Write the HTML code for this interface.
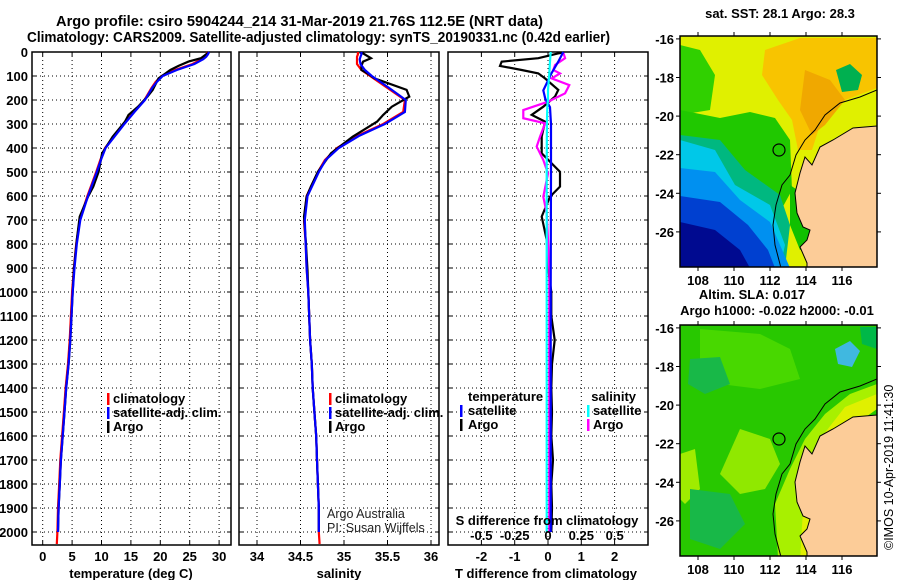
<!DOCTYPE html>
<html><head><meta charset="utf-8"><style>
html,body{margin:0;padding:0;background:#fff}
svg{display:block}
text{font-family:"Liberation Sans",sans-serif}
.b{font-weight:bold;font-size:13px}
.t{font-weight:bold;font-size:14.5px}
</style></head><body>
<svg id="s" width="900" height="580" viewBox="0 0 900 580">
<rect width="900" height="580" fill="#fff"/>
<text class="t" x="56" y="26" textLength="487" lengthAdjust="spacingAndGlyphs">Argo profile: csiro 5904244_214 31-Mar-2019 21.76S 112.5E (NRT data)</text>
<text class="t" x="27" y="42" textLength="583" lengthAdjust="spacingAndGlyphs">Climatology: CARS2009. Satellite-adjusted climatology: synTS_20190331.nc (0.42d earlier)</text>
<g id="p1"></g>
<g id="p2"></g>
<g id="p3"></g>
<g id="m1"></g>
<g id="m2"></g>
<text x="893" y="550" font-size="12.5" transform="rotate(-90 893 550)">©IMOS 10-Apr-2019 11:41:30</text>
</svg>
<script>
const depthClim=[0,10,20,30,50,75,100,125,150,200,250,300,350,400,450,500,600,700,800,900,1000,1100,1200,1300,1400,1500,1600,1700,1800,1900,2000,2050];
const tempClim=[28.0,27.9,27.6,27.0,25.5,22.5,20.2,19.2,18.5,17.3,15.5,13.8,12.2,10.6,9.8,9.1,7.6,6.3,5.7,5.3,5.0,4.8,4.6,4.3,3.9,3.6,3.3,3.0,2.8,2.6,2.5,2.4];
const tempSat=[28.3,28.1,27.8,27.3,25.8,22.8,20.4,19.4,18.6,17.4,15.6,13.9,12.3,10.7,9.9,9.2,7.7,6.4,5.8,5.4,5.1,4.9,4.7,4.4,4.0,3.7,3.4,3.1,2.9,2.7,2.6];
const depthArgo=[2,6,26,40,58,75,89,110,158,186,228,262,290,353,422,499,561,603,686,783,908,1000,1100,1200,1300,1400,1500,1600,1700,1800,1900,2000];
const tempArgo=[28.3,28.0,26.9,24.8,23.1,21.7,20.9,19.7,18.7,17.8,16.2,14.6,14.0,11.9,10.1,9.5,8.6,7.7,6.3,5.8,5.3,5.1,4.9,4.7,4.4,4.0,3.7,3.4,3.1,2.9,2.7,2.6];
const salClim=[35.16,35.16,35.15,35.15,35.15,35.2,35.3,35.4,35.5,35.7,35.68,35.45,35.15,34.92,34.78,34.7,34.57,34.54,34.56,34.57,34.59,34.6,34.61,34.63,34.64,34.66,34.68,34.69,34.7,34.71,34.71,34.72];
const salSat=[35.2,35.2,35.19,35.18,35.19,35.24,35.32,35.42,35.52,35.71,35.7,35.47,35.17,34.94,34.79,34.71,34.58,34.55,34.56,34.57,34.59,34.6,34.61,34.63,34.64,34.66,34.68,34.69,34.7,34.71,34.71];
const salArgo=[35.18,35.22,35.31,35.22,35.2,35.2,35.27,35.35,35.72,35.75,35.55,35.45,35.38,35.1,34.85,34.7,34.62,34.57,34.54,34.56,34.58,34.59,34.6,34.61,34.63,34.64,34.66,34.68,34.69,34.7,34.71,34.71];
const tDiffArgo=[0.46,0.3,-0.29,-1.39,-1.44,-0.79,-0.29,-0.09,0.31,0.21,-0.14,-0.49,-0.09,-0.19,-0.19,0.36,0.36,0.06,-0.19,-0.04,0.01,0.1,0.1,0.2,0.12,0.1,0.12,0.1,0.15,0.1,0.12,0.1];
const sDiffDepth=[5,26,54,75,89,110,138,172,207,242,276,297,353,394,450,506,603,672,783,908,1000,1500,2000];
const sDiffArgo=[0.116,0.128,0.053,0.04,0.09,0.028,0.16,0.128,0.0,-0.185,-0.185,-0.022,-0.06,-0.085,-0.035,0,-0.035,-0.01,0,0.01,0.01,0.01,0.01];
const satDiffDepth=[0,40,90,160,195,230,300,500,1000,1500,2000];
const tDiffSat=[0.46,0.31,0.1,-0.14,-0.08,0.06,0.09,0.09,0.08,0.08,0.08];
const sDiffSat=[0.02,0.015,0.01,0.0,0.0,-0.005,-0.008,-0.01,-0.01,-0.01,-0.01];
const depthTicks=[0,100,200,300,400,500,600,700,800,900,1000,1100,1200,1300,1400,1500,1600,1700,1800,1900,2000];
const tempTicks=[0,5,10,15,20,25,30];
const salTicks=[34,34.5,35,35.5,36];
const tdTicks=[-2,-1,0,1,2];
const sdTicks=[-0.5,-0.25,0,0.25,0.5];
const lonTicks=[108,110,112,114,116];
const latTicks=[-16,-18,-20,-22,-24,-26];

const NS='http://www.w3.org/2000/svg';
function mk(tag,attrs,parent){const e=document.createElementNS(NS,tag);for(const k in attrs)e.setAttribute(k,attrs[k]);parent.appendChild(e);return e;}
const PT=52,PB=545;
const yD=d=>52+d*0.24;

function panel(g,x0,x1,xs,ticks,label,showY){
  depthTicks.forEach(d=>{
    const l=mk('line',{x1:x0,x2:x1,y1:yD(d),y2:yD(d),stroke:'#000','stroke-dasharray':'1,3'},g);
    
    mk('line',{x1:x0,x2:x0+4,y1:yD(d),y2:yD(d),stroke:'#000'},g);
    mk('line',{x1:x1-4,x2:x1,y1:yD(d),y2:yD(d),stroke:'#000'},g);
    if(showY){const t=mk('text',{x:28,y:yD(d)+5,'text-anchor':'end',class:'b'},g);t.textContent=d;
      }
  });
  ticks.forEach(v=>{
    const l=mk('line',{x1:xs(v),x2:xs(v),y1:PT,y2:PB,stroke:'#000','stroke-dasharray':'1,3'},g);
    
    mk('line',{x1:xs(v),x2:xs(v),y1:PB-4,y2:PB,stroke:'#000'},g);
    mk('line',{x1:xs(v),x2:xs(v),y1:PT,y2:PT+4,stroke:'#000'},g);
  });
  const r=mk('rect',{x:x0,y:PT,width:x1-x0,height:PB-PT,fill:'none',stroke:'#000','stroke-width':1.5},g);
  
}
function tickLabels(g,ticks,xs,y){
  ticks.forEach(v=>{const t=mk('text',{x:xs(v),y:y,'text-anchor':'middle',class:'b'},g);t.textContent=v;
    });
}
function line(g,xs,vals,deps,col,name){
  const pts=vals.map((v,i)=>xs(v).toFixed(1)+','+yD(deps[i]).toFixed(1)).join(' ');
  const p=mk('polyline',{points:pts,fill:'none',stroke:col,'stroke-width':2.2,'stroke-linejoin':'miter'},g);
  
}
function lab(g,x,y,txt,name,extra){const t=mk('text',Object.assign({x:x,y:y,class:'b'},extra||{}),g);t.textContent=txt;
  return t;}
function legBar(g,x,y,col){const r=mk('rect',{x:x,y:y-10,width:2.5,height:12,fill:col},g);
  }

// panel 1
const g1=document.getElementById('p1');
const xT=v=>42.7+v*5.88;
panel(g1,32,231,xT,tempTicks,'',true);
line(g1,xT,tempClim,depthClim,'#f00','temp-climatology-line');
line(g1,xT,tempArgo,depthArgo,'#000','temp-argo-line');
line(g1,xT,tempSat,depthClim,'#00f','temp-satellite-line');
tickLabels(g1,tempTicks,xT,561);
lab(g1,131,578,'temperature (deg C)','x-axis-title-temperature',{'text-anchor':'middle'});
[['#f00','climatology'],['#00f','satellite-adj. clim.'],['#000','Argo']].forEach((e,i)=>{legBar(g1,107,403+i*14,e[0]);lab(g1,113,403+i*14,e[1],'legend-entry');});

// panel 2
const g2=document.getElementById('p2');
const xS=v=>257+(v-34)*87;
panel(g2,239,439,xS,salTicks,'',false);
line(g2,xS,salClim,depthClim,'#f00','sal-climatology-line');
line(g2,xS,salArgo,depthArgo,'#000','sal-argo-line');
line(g2,xS,salSat,depthClim,'#00f','sal-satellite-line');
tickLabels(g2,salTicks,xS,561);
lab(g2,339,578,'salinity','x-axis-title-salinity',{'text-anchor':'middle'});
[['#f00','climatology'],['#00f','satellite-adj. clim.'],['#000','Argo']].forEach((e,i)=>{legBar(g2,329,403+i*14,e[0]);lab(g2,335,403+i*14,e[1],'legend-entry');});
let c1=mk('text',{x:327,y:518,'font-size':12.5,fill:'#222'},g2);c1.textContent='Argo Australia';
let c2=mk('text',{x:327,y:532,'font-size':12.5,fill:'#222'},g2);c2.textContent='PI: Susan Wijffels';

// panel 3
const g3=document.getElementById('p3');
const xTD=v=>548+v*33.3;
const xSD=v=>548+v*133.3;
panel(g3,448,648,xTD,tdTicks,'',false);
line(g3,xTD,tDiffArgo,depthArgo,'#000','tdiff-argo-line');
line(g3,xSD,sDiffArgo,sDiffDepth,'#f0f','sdiff-argo-line');
line(g3,xTD,tDiffSat,satDiffDepth,'#00f','tdiff-satellite-line');
line(g3,xSD,sDiffSat,satDiffDepth,'#0ff','sdiff-satellite-line');
tickLabels(g3,tdTicks,xTD,561);
lab(g3,546,578,'T difference from climatology','x-axis-title-tdiff',{'text-anchor':'middle'});
lab(g3,547,525,'S difference from climatology','s-axis-title',{'text-anchor':'middle'});
tickLabels(g3,sdTicks,xSD,540);
lab(g3,468,401,'temperature','legend-title-temperature');
legBar(g3,460,415,'#00f');lab(g3,468,415,'satellite','legend-entry');
legBar(g3,460,429,'#000');lab(g3,468,429,'Argo','legend-entry');
lab(g3,636,401,'salinity','legend-title-salinity',{'text-anchor':'end'});
legBar(g3,587,415,'#0ff');lab(g3,593,415,'satellite','legend-entry');
legBar(g3,587,429,'#f0f');lab(g3,593,429,'Argo','legend-entry');

// maps
const land=[[877,126],[853,128],[833,140],[820,147],[812,165],[805,157],[800,173],[795,193],[797,213],[803,227],[810,230],[807,240],[800,247],[807,263],[807,268],[877,268]];
const iso=[[877,90],[860,97],[840,103],[825,115],[815,130],[805,140],[796,155],[790,175],[782,185],[776,205],[773,225],[775,245],[781,268]];
const P=a=>a.map(p=>p.join(',')).join(' ');
function map(g,dy,blobs,base,title){
  const cl='clip'+dy;
  const cp=mk('clipPath',{id:cl},g);mk('rect',{x:680,y:36+dy,width:197,height:231},cp);
  const inner=mk('g',{'clip-path':'url(#'+cl+')'},g);
  mk('rect',{x:680,y:36+dy,width:197,height:231,fill:base},inner);
  const bg=mk('g',{transform:'translate(0,'+dy+')'},inner);
  blobs.forEach(b=>{const p=mk('polygon',{points:P(b[1]),fill:b[0]},bg);});
  const ld=mk('polygon',{points:P(land),fill:'#fccc98',stroke:'#000','stroke-width':1},bg);
  
  const is=mk('polyline',{points:P(iso),fill:'none',stroke:'#000','stroke-width':1},bg);
  
  const c=mk('circle',{cx:779,cy:150,r:6,fill:'none',stroke:'#000','stroke-width':1.2},bg);
  
  const fr=mk('rect',{x:680,y:36+dy,width:197,height:231,fill:'none',stroke:'#000','stroke-width':1.5},g);
  
  lonTicks.forEach(v=>{const x=680+(v-107)*18;
    mk('line',{x1:x,x2:x,y1:36+dy,y2:32+dy,stroke:'#000'},g);mk('line',{x1:x,x2:x,y1:267+dy,y2:271+dy,stroke:'#000'},g);
    lab(g,x,285+dy,v,'lon-tick-label',{'text-anchor':'middle'});});
  latTicks.forEach(v=>{const y=36+(-15.85-v)*19.3+dy;
    mk('line',{x1:676,x2:680,y1:y,y2:y,stroke:'#000'},g);mk('line',{x1:877,x2:881,y1:y,y2:y,stroke:'#000'},g);
    lab(g,674,y+5,v,'lat-tick-label',{'text-anchor':'end'});});
}
const sstBlobs=[
 ['#f8c400',[[765,50],[800,38],[877,38],[877,88],[845,100],[820,125],[812,150],[798,150],[792,120],[778,100],[762,75]]],
 ['#f0a800',[[805,70],[830,80],[845,100],[825,125],[812,135],[800,110]]],
 ['#30d000',[[680,45],[700,50],[715,75],[710,110],[680,115]]],
 ['#00b050',[[836,70],[850,64],[862,75],[858,90],[842,92]]],
 ['#20c800',[[680,110],[720,118],[750,112],[775,118],[790,140],[792,190],[780,212],[760,205],[730,192],[700,182],[680,175]]],
 ['#00b880',[[680,135],[720,140],[745,170],[780,195],[790,225],[785,268],[680,268]]],
 ['#00c8e8',[[680,140],[715,150],[735,185],[770,205],[785,245],[780,268],[680,268]]],
 ['#0090f0',[[680,168],[715,172],[740,200],[770,222],[790,268],[680,268]]],
 ['#0040d0',[[680,196],[720,202],[748,225],[768,250],[775,268],[680,268]]],
 ['#000a90',[[680,222],[715,230],[740,250],[750,268],[680,268]]],
 ['#10c000',[[790,185],[812,200],[815,245],[800,250],[790,225]]]
];
const slaBlobs=[
 ['#48d800',[[700,40],[760,45],[790,60],[800,90],[760,100],[720,95],[700,70]]],
 ['#a8f000',[[877,95],[850,105],[825,125],[805,150],[790,180],[775,215],[778,268],[800,268],[805,200],[830,150],[877,110]]],
 ['#e0f000',[[877,105],[845,118],[820,150],[805,190],[800,268],[812,268],[815,200],[835,150],[877,120]]],
 ['#90e800',[[740,140],[770,150],[780,175],[765,200],[740,205],[720,185]]],
 ['#a0ec00',[[680,165],[695,160],[700,200],[685,215],[680,210]]],
 ['#18b848',[[690,70],[720,68],[730,95],[705,105],[688,95]]],
 ['#18b848',[[690,200],[730,205],[745,235],[720,260],[690,250]]],
 ['#40b8e0',[[835,60],[850,52],[860,62],[852,78],[838,75]]],
 ['#00b848',[[860,38],[877,38],[877,60],[862,55]]]
];
map(document.getElementById('m1'),0,sstBlobs,'#e0f000');
map(document.getElementById('m2'),289,slaBlobs,'#28c800');
const g5=document.getElementById('m1');
lab(g5,780,18,'sat. SST: 28.1 Argo: 28.3','sst-map-title',{'text-anchor':'middle'});
lab(g5,752,299,'Altim. SLA: 0.017','sla-map-title',{'text-anchor':'middle'});
lab(g5,777,315,'Argo h1000: -0.022 h2000: -0.01','sla-map-subtitle',{'text-anchor':'middle'});
</script>
</body></html>
